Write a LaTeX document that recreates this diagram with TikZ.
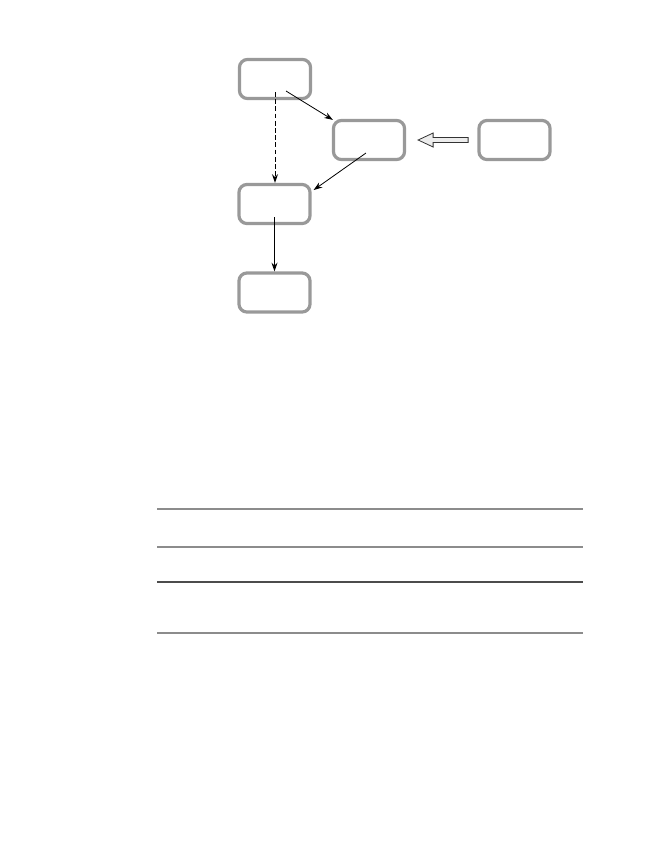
\documentclass[tikz,border=0pt]{standalone}
\usetikzlibrary{arrows.meta,calc}
\begin{document}
\begin{tikzpicture}[x=0.75pt,y=-0.75pt,
  box/.style={draw=gray!80,line width=2.4pt,rounded corners=6pt,minimum width=53.3pt,minimum height=29.3pt,inner sep=0pt},
  link/.style={-{Stealth[length=6.5pt,width=4.5pt]},line width=0.6pt,black},
  rule/.style={draw=gray!90,line width=0.8pt},
  hollow/.style={draw=black!80,line width=0.6pt,fill=gray!15,line join=miter}]
\useasboundingbox (0,0) rectangle (644,851);
\node[box] (a) at (275,79) {};
\node[box] (b) at (369,140) {};
\node[box] (c) at (514.5,140) {};
\node[box] (d) at (274.5,204) {};
\node[box] (e) at (274.5,292.5) {};
\draw[link,line width=0.75pt,dash pattern=on 3.6pt off 1.8pt] ($(a.center)+(0,13)$) -- (a.center|-d.north);
\draw[link] ($(a.center)+(11,12)$) -- ($(b.north west)+(1,1)$);
\draw[link] ($(b.center)+(-3,13)$) -- ($(d.east)+(2,-14)$);
\draw[link] ($(d.center)+(0,13)$) -- (d.center|-e.north);
\coordinate (tip) at ($(b.east)+(12,0)$);
\draw[hollow] (tip) -- ++(15,-7) -- ++(0,4.5) -- ++(35,0) -- ++(0,5) -- ++(-35,0) -- ++(0,4.5) -- cycle;
\draw[rule] (157,509) -- (583,509);
\draw[rule] (157,547) -- (583,547);
\draw[rule,draw=black!70] (157,582) -- (583,582);
\draw[rule] (157,633) -- (583,633);
\end{tikzpicture}
\end{document}
